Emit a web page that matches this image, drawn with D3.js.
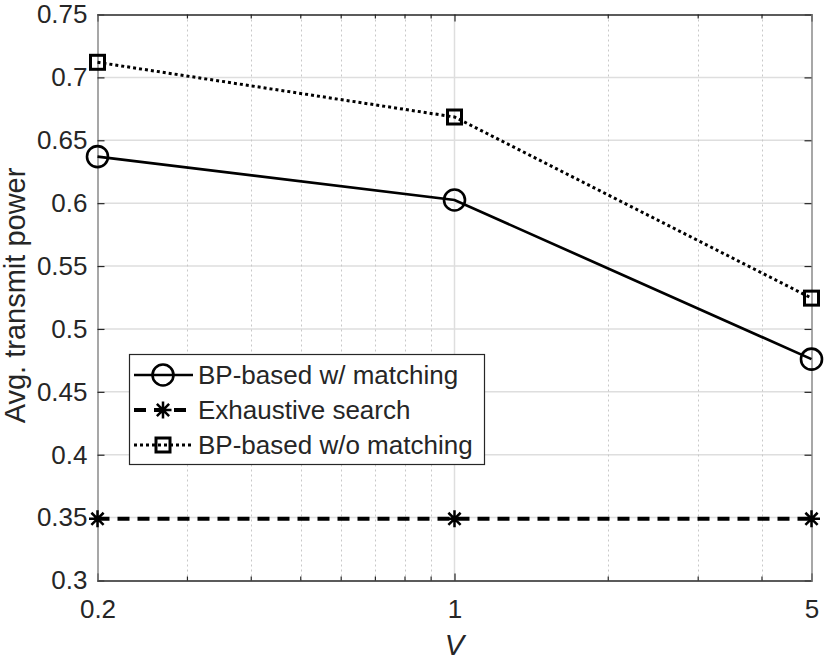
<!DOCTYPE html>
<html>
<head>
<meta charset="utf-8">
<script src="https://cdn.jsdelivr.net/npm/d3@7"></script>
<style>
body { margin: 0; background: #fff; }
text { font-family: "Liberation Sans", Arial, sans-serif; fill: #262626; }
</style>
</head>
<body>
<div class="chart"></div>
<script>
// values
var xValues = [0.2, 1, 5];
var withMatching = [0.637, 0.6025, 0.476];
var exhaustive = [0.349, 0.349, 0.349];
var withoutMatching = [0.712, 0.6685, 0.5245];
var seriesNames = ["BP-based w/ matching", "Exhaustive search", "BP-based w/o matching"];
var xTicks = [0.2, 1, 5];
var xMinor = [0.3, 0.4, 0.5, 0.6, 0.7, 0.8, 0.9, 2, 3, 4];
var yTicks = [0.3, 0.35, 0.4, 0.45, 0.5, 0.55, 0.6, 0.65, 0.7, 0.75];

var W = 831, H = 662;
var pLeft = 97.5, pRight = 811.5, pTop = 14.5, pBottom = 580.5;

var svg = d3.select(".chart").append("svg")
  .attr("width", W)
  .attr("height", H);

var x = d3.scaleLog().domain([0.2, 5]).range([pLeft, pRight]);
var y = d3.scaleLinear().domain([0.3, 0.75]).range([pBottom, pTop]);

// grid
svg.append("g").selectAll("line")
  .data(yTicks.slice(1, -1))
  .enter().append("line")
  .attr("x1", pLeft).attr("x2", pRight)
  .attr("y1", d => y(d)).attr("y2", d => y(d))
  .attr("stroke", "#dedede").attr("stroke-width", 1.5);

svg.append("g").selectAll("line")
  .data(xTicks.slice(1, -1))
  .enter().append("line")
  .attr("x1", d => x(d)).attr("x2", d => x(d))
  .attr("y1", pTop).attr("y2", pBottom)
  .attr("stroke", "#dedede").attr("stroke-width", 1.5);

svg.append("g").selectAll("line")
  .data(xMinor)
  .enter().append("line")
  .attr("x1", d => Math.round(x(d)) + 0.5).attr("x2", d => Math.round(x(d)) + 0.5)
  .attr("y1", pTop).attr("y2", pBottom)
  .attr("stroke", "#c8c8c8").attr("stroke-width", 1)
  .attr("stroke-dasharray", "2,3");

// axes (ticks inward, box)
var axisBottom = d3.axisBottom(x).tickValues(xTicks).tickFormat(d3.format("")).tickSize(-7).tickPadding(19);
var axisTop = d3.axisTop(x).tickValues(xTicks).tickFormat("").tickSize(-7);
var axisLeft = d3.axisLeft(y).tickValues(yTicks).tickFormat(d => d3.format("")(+d.toFixed(2))).tickSize(-7).tickPadding(10);
var axisRight = d3.axisRight(y).tickValues(yTicks).tickFormat("").tickSize(-7);

function styleAxis(g, col) {
  g.select(".domain").attr("stroke", col).attr("stroke-width", 1.5);
  g.selectAll(".tick line").attr("stroke", "#262626").attr("stroke-width", 1.2);
  g.selectAll("text").attr("font-size", 26).attr("fill", "#262626")
    .style("font-family", "'Liberation Sans', Arial, sans-serif");
}

svg.append("g").attr("transform", "translate(0," + pBottom + ")").call(axisBottom).call(g => styleAxis(g, "#262626"));
svg.append("g").attr("transform", "translate(0," + pTop + ")").call(axisTop).call(g => styleAxis(g, "#262626"));
svg.append("g").attr("transform", "translate(" + pLeft + ",0)").call(axisLeft).call(g => styleAxis(g, "#8a8a8a"));
svg.append("g").attr("transform", "translate(" + pRight + ",0)").call(axisRight).call(g => styleAxis(g, "#8a8a8a"));

// minor ticks on x
[pBottom, pTop].forEach(function(yy, i) {
  svg.append("g").selectAll("line")
    .data(xMinor).enter().append("line")
    .attr("x1", d => x(d)).attr("x2", d => x(d))
    .attr("y1", yy).attr("y2", i == 0 ? yy - 4 : yy + 4)
    .attr("stroke", "#262626").attr("stroke-width", 1.2);
});

// axis titles
svg.append("text")
  .attr("x", x(1)).attr("y", 655)
  .attr("text-anchor", "middle")
  .attr("font-size", 29).attr("font-style", "italic")
  .text("V");

svg.append("text")
  .attr("transform", "translate(25," + ((pTop + pBottom) / 2 - 2) + ") rotate(-90)")
  .attr("text-anchor", "middle")
  .attr("font-size", 29)
  .text("Avg. transmit power");

// markers
function drawMarker(g, type, cx, cy) {
  if (type == "circle") {
    g.append("circle").attr("cx", cx).attr("cy", cy).attr("r", 10.5)
      .attr("fill", "none").attr("stroke", "#000").attr("stroke-width", 2.6);
  } else if (type == "square") {
    g.append("rect").attr("x", cx - 7).attr("y", cy - 7).attr("width", 14).attr("height", 14)
      .attr("fill", "none").attr("stroke", "#000").attr("stroke-width", 3);
  } else {
    var s = 8.5, t = s * 0.72;
    var p = "M" + (cx - s) + "," + cy + "H" + (cx + s) +
      "M" + cx + "," + (cy - s) + "V" + (cy + s) +
      "M" + (cx - t) + "," + (cy - t) + "L" + (cx + t) + "," + (cy + t) +
      "M" + (cx - t) + "," + (cy + t) + "L" + (cx + t) + "," + (cy - t);
    g.append("path").attr("d", p).attr("stroke", "#000").attr("stroke-width", 2.5).attr("fill", "none");
  }
}

var series = [
  { name: seriesNames[0], values: withMatching, marker: "circle", dash: null, width: 2.7 },
  { name: seriesNames[1], values: exhaustive, marker: "star", dash: "12,8", width: 4 },
  { name: seriesNames[2], values: withoutMatching, marker: "square", dash: "3,3", width: 3 }
];

var line = d3.line()
  .x(d => x(d[0]))
  .y(d => y(d[1]));

series.forEach(function(s) {
  var pts = xValues.map((v, i) => [v, s.values[i]]);
  svg.append("path")
    .attr("d", line(pts))
    .attr("fill", "none")
    .attr("stroke", "#000")
    .attr("stroke-width", s.width)
    .attr("stroke-dasharray", s.dash);
  var g = svg.append("g");
  pts.forEach(p => drawMarker(g, s.marker, x(p[0]), y(p[1])));
});

// legend
var lg = svg.append("g");
lg.append("rect")
  .attr("x", 129.5).attr("y", 354.5).attr("width", 355).attr("height", 110)
  .attr("fill", "#fff").attr("stroke", "#262626").attr("stroke-width", 1.2);

series.forEach(function(s, i) {
  var ly = 375 + i * 35;
  lg.append("line")
    .attr("x1", 134).attr("x2", 193).attr("y1", ly).attr("y2", ly)
    .attr("stroke", "#000").attr("stroke-width", s.width)
    .attr("stroke-dasharray", s.dash);
  drawMarker(lg, s.marker, 163, ly);
  lg.append("text")
    .attr("x", 198).attr("y", ly + 9)
    .attr("font-size", 26)
    .text(s.name);
});
</script>
</body>
</html>
